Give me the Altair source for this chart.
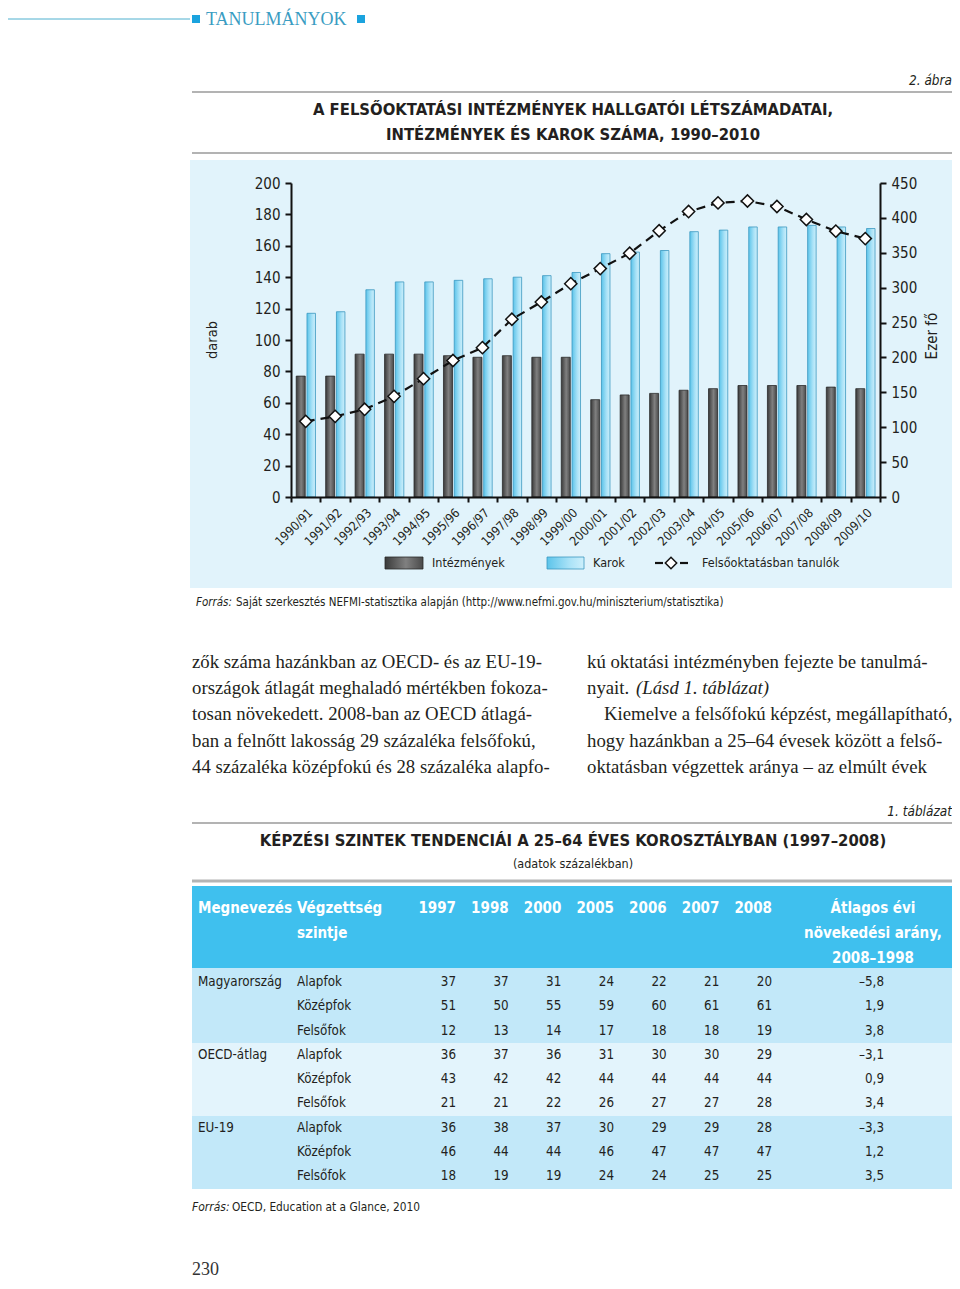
import altair as alt
import pandas as pd

# ---------------- chart data ----------------
years = ["1990/91", "1991/92", "1992/93", "1993/94", "1994/95", "1995/96", "1996/97",
         "1997/98", "1998/99", "1999/00", "2000/01", "2001/02", "2002/03", "2003/04",
         "2004/05", "2005/06", "2006/07", "2007/08", "2008/09", "2009/10"]
intezmenyek = [77, 77, 91, 91, 91, 90, 89, 90, 89, 89, 62, 65, 66, 68, 69, 71, 71, 71, 70, 69]
karok = [117, 118, 132, 137, 137, 138, 139, 140, 141, 143, 155, 156, 157, 169, 170, 172, 172, 173, 172, 171]
tanulok = [108.4, 115.6, 125.7, 144.3, 169.6, 195.6, 214.0, 254.7, 279.4, 305.7, 327.3, 349.3,
           381.6, 409.1, 421.5, 424.2, 416.3, 397.7, 381.0, 370.3]
left_ticks = [0, 20, 40, 60, 80, 100, 120, 140, 160, 180, 200]
right_ticks = [0, 50, 100, 150, 200, 250, 300, 350, 400, 450]

# ---------------- table data ----------------
table_years = ["1997", "1998", "2000", "2005", "2006", "2007", "2008"]
countries = ["Magyarország", "OECD-átlag", "EU-19"]
levels = ["Alapfok", "Középfok", "Felsőfok"]
hu_alapfok = [37, 37, 31, 24, 22, 21, 20]
hu_kozepfok = [51, 50, 55, 59, 60, 61, 61]
hu_felsofok = [12, 13, 14, 17, 18, 18, 19]
oecd_alapfok = [36, 37, 36, 31, 30, 30, 29]
oecd_kozepfok = [43, 42, 42, 44, 44, 44, 44]
oecd_felsofok = [21, 21, 22, 26, 27, 27, 28]
eu_alapfok = [36, 38, 37, 30, 29, 29, 28]
eu_kozepfok = [46, 44, 44, 46, 47, 47, 47]
eu_felsofok = [18, 19, 19, 24, 24, 25, 25]
growth = ["–5,8", "1,9", "3,8", "–3,1", "0,9", "3,4", "–3,3", "1,2", "3,5"]

# ---------------- page setup ----------------
W, H = 944, 1273
O = 8  # page margin
SANS = "Liberation Sans Narrow, Arial Narrow, DejaVu Sans Condensed, Roboto Condensed, Liberation Sans, sans-serif"
SERIF = "Liberation Serif, DejaVu Serif, serif"
INK = "#231f20"

one = pd.DataFrame({"k": [0]})


def text(s, x, y, size=15, font=SANS, weight="normal", style="normal", align="left",
         color=INK, angle=0, baseline="middle"):
    return alt.Chart(one).mark_text(
        text=s, font=font, fontSize=size, fontWeight=weight, fontStyle=style,
        align=align, baseline=baseline, color=color, angle=angle
    ).encode(x=alt.value(x - O), y=alt.value(y - O))


def rect(x1, y1, x2, y2, fill, stroke=None, sw=0.0):
    kw = dict(color=fill)
    if stroke:
        kw.update(stroke=stroke, strokeWidth=sw)
    return alt.Chart(one).mark_rect(**kw).encode(
        x=alt.value(x1 - O), x2=alt.value(x2 - O), y=alt.value(y1 - O), y2=alt.value(y2 - O))


def hrule(x1, x2, y, color, width=1.0, dash=None):
    kw = dict(color=color, strokeWidth=width)
    if dash:
        kw["strokeDash"] = dash
    return alt.Chart(one).mark_rule(**kw).encode(
        x=alt.value(x1 - O), x2=alt.value(x2 - O), y=alt.value(y - O))


dark_grad = alt.Gradient(gradient="linear", x1=0, x2=1, y1=0, y2=0, stops=[
    alt.GradientStop(color="#3a3a3a", offset=0),
    alt.GradientStop(color="#808080", offset=0.55),
    alt.GradientStop(color="#4a4a4a", offset=1)])
light_grad = alt.Gradient(gradient="linear", x1=0, x2=1, y1=0, y2=0, stops=[
    alt.GradientStop(color="#5cc4ea", offset=0),
    alt.GradientStop(color="#a9e2f7", offset=0.6),
    alt.GradientStop(color="#cdeffb", offset=1)])

# ---------------- main chart ----------------
df = pd.DataFrame({"ev": years, "intezmenyek": intezmenyek, "karok": karok, "tanulok": tanulok})

PL, PR, PB, PT = 291, 880, 497, 183  # plot frame in page px
xscale = alt.Scale(domain=years, range=[PL - O, PR - O], paddingInner=0, paddingOuter=0)
yl = alt.Scale(domain=[0, 200], range=[PB - O, PT - O], nice=False)
yr = alt.Scale(domain=[0, 450], range=[PB - O, PT - O], nice=False)

common = dict(domainColor="#111111", domainWidth=2, tickColor="#111111", tickWidth=2,
              labelFont=SANS, labelColor=INK, grid=False, title=None, zindex=2)
xaxis = alt.Axis(orient="bottom", offset=-(H - (PB - O)), labelAngle=315, tickBand="extent",
                 labelOverlap=False, labelFontSize=12.5, labelPadding=4, tickSize=5, **common)
ylaxis = alt.Axis(orient="left", offset=-(PL - O), values=left_ticks, labelFontSize=15,
                  tickSize=6, labelPadding=5, **common)
yraxis = alt.Axis(orient="right", offset=(PR - O) - W, values=right_ticks, labelFontSize=15,
                  tickSize=6, labelPadding=5, **common)

X = alt.X("ev:N", scale=xscale, axis=xaxis)

bars_dark = alt.Chart(df).mark_bar(width=9, xOffset=-5, fill=dark_grad, stroke="#2a2a2a",
                                   strokeWidth=0.8).encode(
    x=X, y=alt.Y("intezmenyek:Q", scale=yl, axis=ylaxis))
bars_light = alt.Chart(df).mark_bar(width=8.5, xOffset=5.5, fill=light_grad, stroke="#3b98c0",
                                    strokeWidth=0.8).encode(
    x=X, y=alt.Y("karok:Q", scale=yl, axis=ylaxis))
line = alt.Chart(df).mark_line(color="#111111", strokeWidth=2.2, strokeDash=[9, 6]).encode(
    x=X, y=alt.Y("tanulok:Q", scale=yr, axis=yraxis))
pts = alt.Chart(df).mark_point(shape="diamond", filled=True, color="white", stroke="#111111",
                               strokeWidth=1.5, size=150, opacity=1).encode(
    x=X, y=alt.Y("tanulok:Q", scale=yr, axis=yraxis))

main = alt.layer(alt.layer(bars_dark, bars_light), alt.layer(line, pts)).resolve_scale(y="independent")

# ---------------- table ----------------
table_rows = [hu_alapfok, hu_kozepfok, hu_felsofok, oecd_alapfok, oecd_kozepfok, oecd_felsofok,
              eu_alapfok, eu_kozepfok, eu_felsofok]
row_ids = list(range(len(table_rows)))
cells = pd.DataFrame([{"row": i, "ev": y, "v": v}
                      for i, vals in enumerate(table_rows) for y, v in zip(table_years, vals)])
row_df = pd.DataFrame({
    "row": row_ids,
    "level": [levels[i % 3] for i in row_ids],
    "country": [countries[i // 3] if i % 3 == 0 else "" for i in row_ids],
    "growth": growth,
})
yr_df = pd.DataFrame({"ev": table_years})

tx = alt.Scale(type="point", domain=table_years, range=[456 - O, 772 - O], padding=0)
ty = alt.Scale(type="point", domain=row_ids, range=[982 - O, 1176 - O], padding=0)
TF = 13.3
HF = 15

t_vals = alt.Chart(cells).mark_text(align="right", baseline="middle", font=SANS, fontSize=TF,
                                    color=INK).encode(
    x=alt.X("ev:N", scale=tx, axis=None), y=alt.Y("row:O", scale=ty, axis=None), text="v:Q")
t_head = alt.Chart(yr_df).mark_text(align="right", baseline="middle", font=SANS, fontSize=HF,
                                    fontWeight="bold", color="white").encode(
    x=alt.X("ev:N", scale=tx, axis=None), y=alt.value(908 - O), text="ev:N")
t_level = alt.Chart(row_df).mark_text(align="left", baseline="middle", font=SANS, fontSize=TF,
                                      color=INK).encode(
    x=alt.value(297 - O), y=alt.Y("row:O", scale=ty, axis=None), text="level:N")
t_country = alt.Chart(row_df).mark_text(align="left", baseline="middle", font=SANS, fontSize=TF,
                                        color=INK).encode(
    x=alt.value(198 - O), y=alt.Y("row:O", scale=ty, axis=None), text="country:N")
t_growth = alt.Chart(row_df).mark_text(align="right", baseline="middle", font=SANS, fontSize=TF,
                                       color=INK).encode(
    x=alt.value(884 - O), y=alt.Y("row:O", scale=ty, axis=None), text="growth:N")

# ---------------- decorations ----------------
back = [
    rect(190, 160, 956, 588, "#e1f3fb"),
    rect(192, 886, 955, 968, "#3fc0ee"),
    rect(192, 968, 955, 1043, "#c2e8f9"),
    rect(192, 1043, 955, 1116, "#e3f4fc"),
    rect(192, 1116, 955, 1189, "#c2e8f9"),
]

TITLE = 16.5
header = [
    hrule(0, 190, 19, "#4fb0cf", 1),
    rect(192, 15, 200, 23, "#1ba3de"),
    text("TANULMÁNYOK", 206, 25, size=18, font=SERIF, color="#3a9cc2", baseline="alphabetic"),
    rect(357, 15, 365, 23, "#1ba3de"),
    text("2. ábra", 952, 81, size=13.5, style="italic", align="right"),
    hrule(192, 955, 92, "#9a9a9a", 1.5),
    text("A FELSŐOKTATÁSI INTÉZMÉNYEK HALLGATÓI LÉTSZÁMADATAI,", 573, 110, size=TITLE, weight="bold", align="center"),
    text("INTÉZMÉNYEK ÉS KAROK SZÁMA, 1990–2010", 573, 135, size=TITLE, weight="bold", align="center"),
    hrule(192, 955, 153, "#9a9a9a", 1.5),
]

LEG = 12.5
chart_deco = [
    text("darab", 213, 340, size=14.5, angle=270, align="center"),
    text("Ezer fő", 932, 336, size=15, angle=270, align="center"),
    rect(385, 557, 423, 569, dark_grad, stroke="#2a2a2a", sw=0.8),
    text("Intézmények", 432, 563, size=LEG),
    rect(547, 557, 584, 569, light_grad, stroke="#3b98c0", sw=0.8),
    text("Karok", 593, 563, size=LEG),
    hrule(655, 663, 563, "#111111", 2.2),
    alt.Chart(one).mark_point(shape="diamond", filled=True, color="white", stroke="#111111",
                              strokeWidth=1.5, size=130, opacity=1).encode(
        x=alt.value(671 - O), y=alt.value(563 - O)),
    hrule(680, 688, 563, "#111111", 2.2),
    text("Felsőoktatásban tanulók", 702, 563, size=LEG),
]

source = [
    text("Forrás:", 196, 603, size=11.5, style="italic"),
    text("Saját szerkesztés NEFMI-statisztika alapján (http://www.nefmi.gov.hu/miniszterium/statisztika)",
         236, 603, size=11.5),
]

PF = 18.8
left_lines = [
    "zők száma hazánkban az OECD- és az EU-19-",
    "országok átlagát meghaladó mértékben fokoza-",
    "tosan növekedett. 2008-ban az OECD átlagá-",
    "ban a felnőtt lakosság 29 százaléka felsőfokú,",
    "44 százaléka középfokú és 28 százaléka alapfo-",
]
line_y = [662, 688, 714, 741, 767]
para = [text(s, 192, yy, size=PF, font=SERIF) for s, yy in zip(left_lines, line_y)]
para += [
    text("kú oktatási intézményben fejezte be tanulmá-", 587, 662, size=PF, font=SERIF),
    text("nyait.", 587, 688, size=PF, font=SERIF),
    text("(Lásd 1. táblázat)", 636, 688, size=PF, font=SERIF, style="italic"),
    text("Kiemelve a felsőfokú képzést, megállapítható,", 604, 714, size=PF, font=SERIF),
    text("hogy hazánkban a 25–64 évesek között a felső-", 587, 741, size=PF, font=SERIF),
    text("oktatásban végzettek aránya – az elmúlt évek", 587, 767, size=PF, font=SERIF),
]

table_deco = [
    text("1. táblázat", 952, 812, size=13.5, style="italic", align="right"),
    hrule(192, 955, 823, "#9a9a9a", 1.5),
    text("KÉPZÉSI SZINTEK TENDENCIÁI A 25–64 ÉVES KOROSZTÁLYBAN (1997–2008)", 573, 841,
         size=TITLE, weight="bold", align="center"),
    text("(adatok százalékban)", 573, 864, size=12.5, align="center"),
    hrule(192, 955, 881, "#b4b4b4", 3),
    text("Megnevezés", 198, 908, size=HF, weight="bold", color="white"),
    text("Végzettség", 297, 908, size=HF, weight="bold", color="white"),
    text("szintje", 297, 933, size=HF, weight="bold", color="white"),
    text("Átlagos évi", 873, 908, size=HF, weight="bold", color="white", align="center"),
    text("növekedési arány,", 873, 933, size=HF, weight="bold", color="white", align="center"),
    text("2008–1998", 873, 958, size=HF, weight="bold", color="white", align="center"),
    text("Forrás:", 192, 1207, size=12, style="italic"),
    text("OECD, Education at a Glance, 2010", 232, 1207, size=11.8),
    text("230", 192, 1275, size=18, font=SERIF, color="#333333", baseline="alphabetic"),
]

chart = alt.layer(
    *back, *header, main, *chart_deco, *source, *para, *table_deco,
    t_head, t_vals, t_level, t_country, t_growth,
).resolve_scale(x="independent", y="independent").properties(
    width=W, height=H, padding=0, background="white",
    autosize=alt.AutoSizeParams(type="none"),
).configure_view(strokeWidth=0)

chart.save("out.html", embed_options={"renderer": "svg", "actions": False})
